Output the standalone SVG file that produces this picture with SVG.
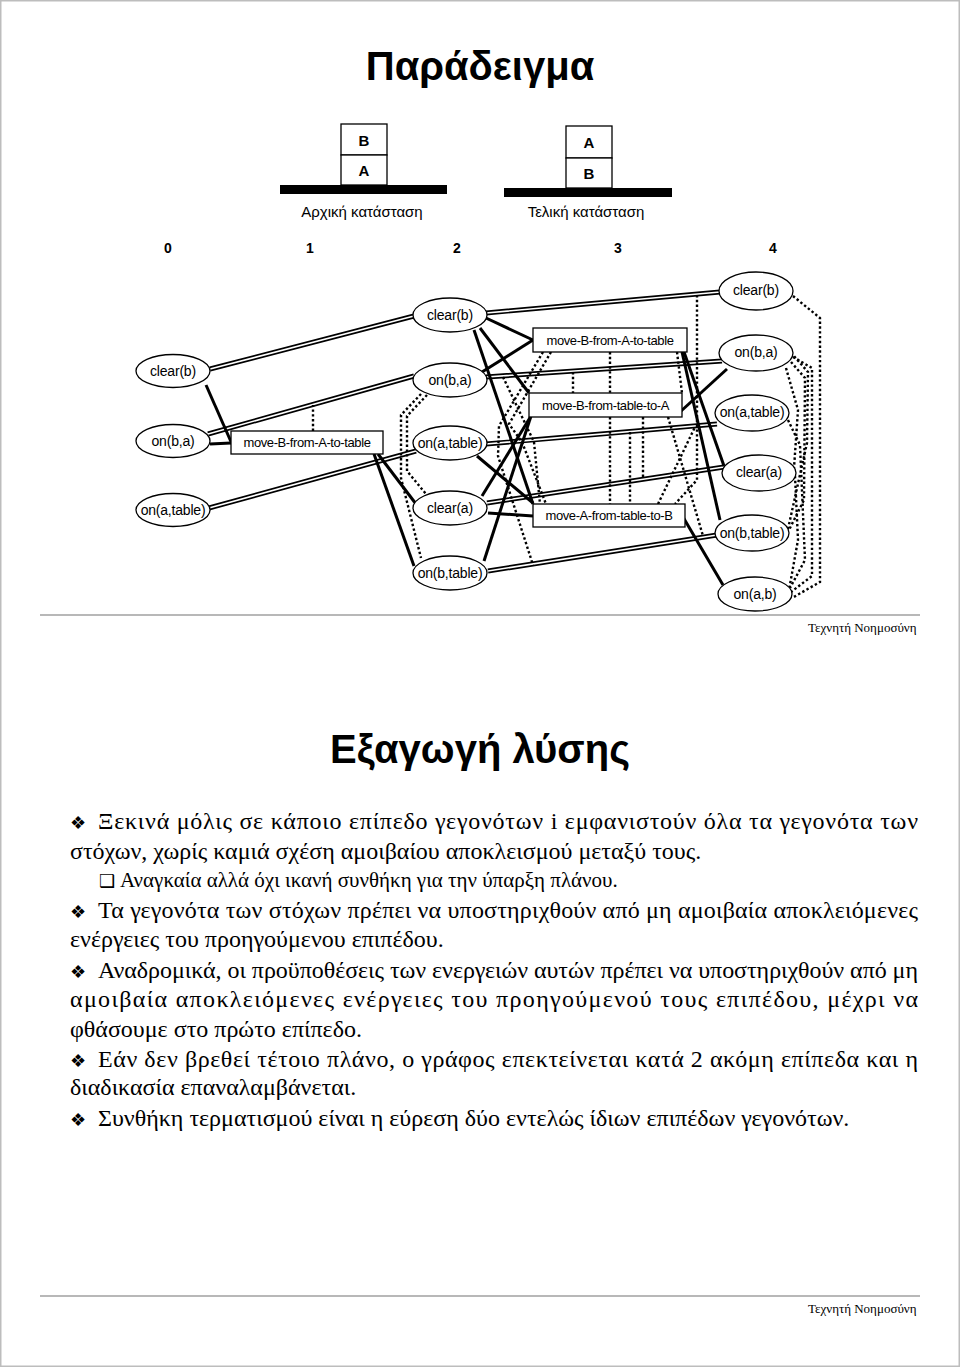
<svg xmlns="http://www.w3.org/2000/svg" width="960" height="1367" viewBox="0 0 960 1367">
<style>
.bg{fill:#fff}
.frame{fill:none;stroke:#bdbdbd;stroke-width:1.5}
.rule{stroke:#a0a0a0;stroke-width:1.5}
.ell{fill:#fff;stroke:#000;stroke-width:1.3}
.box{fill:#fff;stroke:#000;stroke-width:1.3}
.lbl{font-family:"Liberation Sans",Arial,sans-serif;font-size:14px;fill:#000;text-anchor:middle;dominant-baseline:central;letter-spacing:-0.2px}
.albl{font-family:"Liberation Sans",Arial,sans-serif;font-size:13px;fill:#000;text-anchor:middle;dominant-baseline:central;letter-spacing:-0.4px}
.dblo{fill:none;stroke:#000;stroke-width:5}
.dbli{fill:none;stroke:#fff;stroke-width:1.6}
.thick{fill:none;stroke:#000;stroke-width:3}
.dot{fill:none;stroke:#000;stroke-width:2.4;stroke-dasharray:2.4 2.4}
.title{font-family:"Liberation Sans",Arial,sans-serif;font-weight:bold;font-size:40px;text-anchor:middle;fill:#000}
.num{font-family:"Liberation Sans",Arial,sans-serif;font-weight:bold;font-size:14px;text-anchor:middle;fill:#000}
.cap{font-family:"Liberation Sans",Arial,sans-serif;font-size:15px;text-anchor:middle;fill:#000}
.blk{font-family:"Liberation Sans",Arial,sans-serif;font-weight:bold;font-size:15px;text-anchor:middle;dominant-baseline:central;fill:#000}
.foot{font-family:"Liberation Serif","Times New Roman",serif;font-size:13px;fill:#000}
.body{font-family:"Liberation Serif","Times New Roman",serif;font-size:24px;fill:#000}
.sub{font-family:"Liberation Serif","Times New Roman",serif;font-size:21px;fill:#000}
.bul{font-family:"DejaVu Sans",sans-serif;font-size:18px;fill:#000}
</style>
<rect class="bg" x="0" y="0" width="960" height="1367"/>
<rect class="frame" x="0.75" y="0.75" width="958.5" height="1365.5"/>

<!-- Slide 1 -->
<text class="title" x="480" y="80">Παράδειγμα</text>

<g id="initial-state">
<rect x="341" y="124" width="46" height="31" fill="#fff" stroke="#000" stroke-width="1.3"/>
<rect x="341" y="155" width="46" height="30" fill="#fff" stroke="#000" stroke-width="1.3"/>
<text class="blk" x="364" y="140">B</text>
<text class="blk" x="364" y="170">A</text>
<rect x="280" y="185" width="167" height="9" fill="#000"/>
<text class="cap" x="362" y="217">Αρχική κατάσταση</text>
</g>
<g id="final-state">
<rect x="566" y="126" width="46" height="32" fill="#fff" stroke="#000" stroke-width="1.3"/>
<rect x="566" y="158" width="46" height="30" fill="#fff" stroke="#000" stroke-width="1.3"/>
<text class="blk" x="589" y="142">A</text>
<text class="blk" x="589" y="173">B</text>
<rect x="504" y="188" width="168" height="9" fill="#000"/>
<text class="cap" x="586" y="217">Τελική κατάσταση</text>
</g>

<g id="levels">
<text class="num" x="168" y="253">0</text>
<text class="num" x="310" y="253">1</text>
<text class="num" x="457" y="253">2</text>
<text class="num" x="618" y="253">3</text>
<text class="num" x="773" y="253">4</text>
</g>

<g id="connectors">
<g id="noops">
<path class="dblo" d="M210,369 L414,316 M208,434 L414,376 M209,508 L416,451 M486,313 L720,292 M486,377 L722,361 M486,444 L717,424 M487,503 L724,467 M488,571 L717,535"/>
<path class="dbli" d="M210,369 L414,316 M208,434 L414,376 M209,508 L416,451 M486,313 L720,292 M486,377 L722,361 M486,444 L717,424 M487,503 L724,467 M488,571 L717,535"/>
</g>
<g id="solid">
<path class="thick" d="M206,385 L232,444"/>
<path class="thick" d="M210,444 L231,443"/>
<path class="thick" d="M378,454 L416,504"/>
<path class="thick" d="M374,454 L414,566"/>
<path class="thick" d="M486,318 L533,340"/>
<path class="thick" d="M482,372 L533,340"/>
<path class="thick" d="M480,328 L529,393"/>
<path class="thick" d="M474,330 L533,504"/>
<path class="thick" d="M477,456 L533,503"/>
<path class="thick" d="M488,513 L533,516"/>
<path class="thick" d="M482,496 L531,416"/>
<path class="thick" d="M484,561 L531,416"/>
<path class="thick" d="M684,352 L724,466"/>
<path class="thick" d="M682,352 L720,520"/>
<path class="thick" d="M680,412 L727,369"/>
<path class="thick" d="M683,517 L723,585"/>
</g>
<g id="mutex">
<path class="dot" d="M313,431 L313,405"/>
<path class="dot" d="M427,395 L407,416 L407,471 L426,494"/>
<path class="dot" d="M421,394 L401,415 L401,478 L421,558"/>
<path class="dot" d="M610,352 L610,393"/>
<path class="dot" d="M610,417 L610,504"/>
<path class="dot" d="M573,372 L573,393"/>
<path class="dot" d="M697,295 L697,480 L675,504"/>
<path class="dot" d="M677,352 L682,393"/>
<path class="dot" d="M668,417 L703,536"/>
<path class="dot" d="M658,504 L695,427"/>
<path class="dot" d="M630,432 L630,504"/>
<path class="dot" d="M643,417 L643,478"/>
<path class="dot" d="M543,352 L499,426 L498,456 L533,565"/>
<path class="dot" d="M551,352 L509,424 L522,442 L546,504"/>
<path class="dot" d="M503,377 L534,442 L540,504"/>
<path class="dot" d="M793,296 L820,318 L820,582 L792,598"/>
<path class="dot" d="M793,357 L812,368 L812,576 L791,592"/>
<path class="dot" d="M791,362 L805,378 L804,500 L789,530"/>
<path class="dot" d="M786,368 L798,410 L794,468"/>
<path class="dot" d="M788,420 L800,445 L805,560 L790,588"/>
<path class="dot" d="M795,476 L798,540 L789,590"/>
<path class="dot" d="M788,529 L807,443 L808,372 L793,355"/>
</g>
</g>

<g id="L0-clear-b"><ellipse class="ell" cx="173" cy="371" rx="37" ry="16.5"/><text class="lbl" x="173" y="371">clear(b)</text></g>
<g id="L0-on-b-a"><ellipse class="ell" cx="173" cy="441" rx="37" ry="16.5"/><text class="lbl" x="173" y="441">on(b,a)</text></g>
<g id="L0-on-a-table"><ellipse class="ell" cx="173" cy="510" rx="37" ry="16.5"/><text class="lbl" x="173" y="510">on(a,table)</text></g>

<g id="L1-move-B-from-A-to-table"><rect class="box" x="231" y="431" width="152" height="23"/><text class="albl" x="307" y="442.5">move-B-from-A-to-table</text></g>

<g id="L2-clear-b"><ellipse class="ell" cx="450" cy="315" rx="37" ry="17"/><text class="lbl" x="450" y="315">clear(b)</text></g>
<g id="L2-on-b-a"><ellipse class="ell" cx="450" cy="380" rx="37" ry="17"/><text class="lbl" x="450" y="380">on(b,a)</text></g>
<g id="L2-on-a-table"><ellipse class="ell" cx="450" cy="443" rx="37" ry="17"/><text class="lbl" x="450" y="443">on(a,table)</text></g>
<g id="L2-clear-a"><ellipse class="ell" cx="450" cy="508" rx="37" ry="17"/><text class="lbl" x="450" y="508">clear(a)</text></g>
<g id="L2-on-b-table"><ellipse class="ell" cx="450" cy="573" rx="37" ry="17"/><text class="lbl" x="450" y="573">on(b,table)</text></g>

<g id="L3-move-B-from-A-to-table"><rect class="box" x="533" y="328" width="154" height="24"/><text class="albl" x="610" y="340">move-B-from-A-to-table</text></g>
<g id="L3-move-B-from-table-to-A"><rect class="box" x="529" y="393" width="153" height="24"/><text class="albl" x="605.5" y="405">move-B-from-table-to-A</text></g>
<g id="L3-move-A-from-table-to-B"><rect class="box" x="533" y="504" width="152" height="23"/><text class="albl" x="609" y="515.5">move-A-from-table-to-B</text></g>

<g id="L4-clear-b"><ellipse class="ell" cx="756" cy="291" rx="37" ry="19"/><text class="lbl" x="756" y="290">clear(b)</text></g>
<g id="L4-on-b-a"><ellipse class="ell" cx="756" cy="353" rx="37" ry="18"/><text class="lbl" x="756" y="352">on(b,a)</text></g>
<g id="L4-on-a-table"><ellipse class="ell" cx="752" cy="413" rx="37" ry="18"/><text class="lbl" x="752" y="412">on(a,table)</text></g>
<g id="L4-clear-a"><ellipse class="ell" cx="759" cy="473" rx="37" ry="18"/><text class="lbl" x="759" y="472">clear(a)</text></g>
<g id="L4-on-b-table"><ellipse class="ell" cx="752" cy="533" rx="37" ry="18"/><text class="lbl" x="752" y="533">on(b,table)</text></g>
<g id="L4-on-a-b"><ellipse class="ell" cx="755" cy="594" rx="37" ry="17"/><text class="lbl" x="755" y="594">on(a,b)</text></g>

<line class="rule" x1="40" y1="615" x2="920" y2="615"/>
<text class="foot" x="808" y="632">Τεχνητή Νοημοσύνη</text>

<!-- Slide 2 -->
<text class="title" x="480" y="763">Εξαγωγή λύσης</text>
<g id="bullets">
<text class="bul" x="70" y="829">❖</text>
<text class="body" x="98" y="829" textLength="820" lengthAdjust="spacing">Ξεκινά μόλις σε κάποιο επίπεδο γεγονότων i εμφανιστούν όλα τα γεγονότα των</text>
<text class="body" x="70" y="859">στόχων, χωρίς καμιά σχέση αμοιβαίου αποκλεισμού μεταξύ τους.</text>
<text class="bul" x="99" y="887" font-size="16">❑</text>
<text class="sub" x="120" y="887">Αναγκαία αλλά όχι ικανή συνθήκη για την ύπαρξη πλάνου.</text>
<text class="bul" x="70" y="918">❖</text>
<text class="body" x="98" y="918" textLength="820" lengthAdjust="spacing">Τα γεγονότα των στόχων πρέπει να υποστηριχθούν από μη αμοιβαία αποκλειόμενες</text>
<text class="body" x="70" y="947">ενέργειες του προηγούμενου επιπέδου.</text>
<text class="bul" x="70" y="978">❖</text>
<text class="body" x="98" y="978" textLength="820" lengthAdjust="spacing">Αναδρομικά, οι προϋποθέσεις των ενεργειών αυτών πρέπει να υποστηριχθούν από μη</text>
<text class="body" x="70" y="1007" textLength="848" lengthAdjust="spacing">αμοιβαία αποκλειόμενες ενέργειες του προηγούμενού τους επιπέδου, μέχρι να</text>
<text class="body" x="70" y="1037">φθάσουμε στο πρώτο επίπεδο.</text>
<text class="bul" x="70" y="1067">❖</text>
<text class="body" x="98" y="1067" textLength="820" lengthAdjust="spacing">Εάν δεν βρεθεί τέτοιο πλάνο, ο γράφος επεκτείνεται κατά 2 ακόμη επίπεδα και η</text>
<text class="body" x="70" y="1095">διαδικασία επαναλαμβάνεται.</text>
<text class="bul" x="70" y="1126">❖</text>
<text class="body" x="98" y="1126">Συνθήκη τερματισμού είναι η εύρεση δύο εντελώς ίδιων επιπέδων γεγονότων.</text>
</g>
<line class="rule" x1="40" y1="1296" x2="920" y2="1296"/>
<text class="foot" x="808" y="1313">Τεχνητή Νοημοσύνη</text>
</svg>
